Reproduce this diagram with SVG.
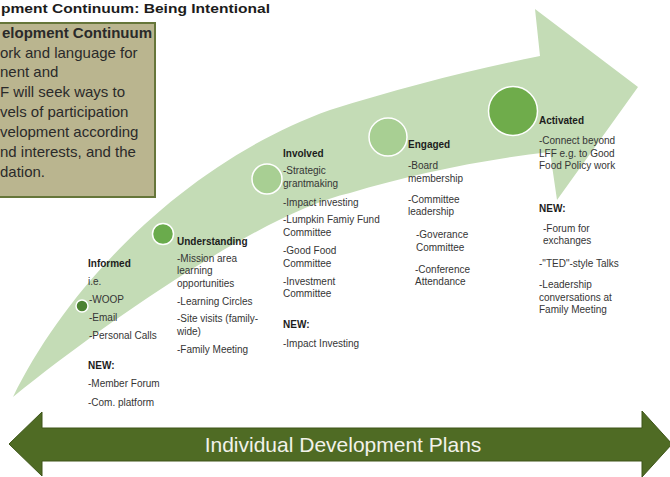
<svg xmlns="http://www.w3.org/2000/svg" width="670" height="477" viewBox="0 0 670 477">
<style>
.t{font-family:"Liberation Sans",Arial,sans-serif;font-size:10px;fill:#353535}
.b{font-weight:bold;fill:#1c1c1c}
.bx{font-family:"Liberation Sans",Arial,sans-serif;font-size:15px;fill:#2a2a2a}
.dot{stroke:#ffffff;stroke-width:1.5}
</style>
<rect width="670" height="477" fill="#ffffff"/>
<text x="1" y="12.5" textLength="269" lengthAdjust="spacingAndGlyphs" font-family="'Liberation Sans',Arial,sans-serif" font-size="13.5" font-weight="bold" fill="#1c1c1c">pment Continuum:  Being Intentional</text>
<g id="intro-box">
<rect x="-2" y="23" width="157" height="174" fill="#bab58f" stroke="#66763a" stroke-width="2"/>
<text class="bx" x="2" y="38" font-weight="bold" font-size="13.3">elopment Continuum</text>
<text class="bx" x="0" y="58">ork and language for</text>
<text class="bx" x="0" y="77">nent and</text>
<text class="bx" x="0" y="97">F will seek ways to</text>
<text class="bx" x="0" y="117">vels of participation</text>
<text class="bx" x="0" y="137">velopment according</text>
<text class="bx" x="0" y="157">nd interests, and the</text>
<text class="bx" x="0" y="177">dation.</text>
</g>
<g id="connectors">
<path id="continuum-arrow" d="M13,397 C70,280 190,160 330,110 C400,88 470,70 540,56 L535,9 L638,87 L557,200 L550,152 C480,160 410,175 350,193 C265,212 105,322 13,397 Z" fill="#c4dcb6"/>
<path id="idp-arrow" d="M9,444 L42,412 L42,428 L642,428 L642,411 L672,444 L642,477 L642,461 L42,461 L42,476 Z" fill="#4f6b24" stroke="#3e5519" stroke-width="1"/>
</g>
<g id="informed">
<circle class="dot" cx="82" cy="306" r="6" fill="#4c8232"/>
<text class="t b" x="88" y="267">Informed</text>
<text class="t" x="88" y="285">i.e.</text>
<text class="t" x="89" y="303">-WOOP</text>
<text class="t" x="89" y="321">-Email</text>
<text class="t" x="89" y="339">-Personal Calls</text>
<text class="t b" x="88" y="369">NEW:</text>
<text class="t" x="88" y="387">-Member Forum</text>
<text class="t" x="88" y="406">-Com. platform</text>
</g>
<g id="understanding">
<circle class="dot" cx="163" cy="234" r="10.5" fill="#6aab4c"/>
<text class="t b" x="177" y="245">Understanding</text>
<text class="t" x="177" y="262">-Mission area</text>
<text class="t" x="177" y="274">learning</text>
<text class="t" x="177" y="287">opportunities</text>
<text class="t" x="177" y="305">-Learning Circles</text>
<text class="t" x="177" y="322">-Site visits (family-</text>
<text class="t" x="177" y="335">wide)</text>
<text class="t" x="177" y="353">-Family Meeting</text>
</g>
<g id="involved">
<circle class="dot" cx="267" cy="179" r="15" fill="#a8cf93"/>
<text class="t b" x="283" y="157">Involved</text>
<text class="t" x="283" y="174">-Strategic</text>
<text class="t" x="283" y="187">grantmaking</text>
<text class="t" x="283" y="206">-Impact investing</text>
<text class="t" x="283" y="223">-Lumpkin Famiy Fund</text>
<text class="t" x="283" y="236">Committee</text>
<text class="t" x="283" y="254">-Good Food</text>
<text class="t" x="283" y="267">Committee</text>
<text class="t" x="283" y="285">-Investment</text>
<text class="t" x="283" y="297">Committee</text>
<text class="t b" x="283" y="328">NEW:</text>
<text class="t" x="283" y="347">-Impact Investing</text>
</g>
<g id="engaged">
<circle class="dot" cx="388" cy="137" r="19" fill="#a8cf93"/>
<text class="t b" x="408" y="148" font-size="11.5">Engaged</text>
<text class="t" x="408" y="169">-Board</text>
<text class="t" x="408" y="182">membership</text>
<text class="t" x="408" y="203">-Committee</text>
<text class="t" x="408" y="215">leadership</text>
<text class="t" x="416" y="238">-Goverance</text>
<text class="t" x="416" y="251">Committee</text>
<text class="t" x="415" y="273">-Conference</text>
<text class="t" x="415" y="285">Attendance</text>
</g>
<g id="activated">
<circle class="dot" cx="513" cy="111" r="24.5" fill="#6fac4b"/>
<text class="t b" x="539" y="124" font-size="13">Activated</text>
<text class="t" x="539" y="144">-Connect beyond</text>
<text class="t" x="539" y="157">LFF e.g. to Good</text>
<text class="t" x="539" y="169">Food Policy work</text>
<text class="t b" x="539" y="212" font-size="11.8">NEW:</text>
<text class="t" x="543" y="232">-Forum for</text>
<text class="t" x="543" y="244">exchanges</text>
<text class="t" x="539" y="267">-"TED"-style Talks</text>
<text class="t" x="539" y="288">-Leadership</text>
<text class="t" x="539" y="301">conversations at</text>
<text class="t" x="539" y="313">Family Meeting</text>
</g>
<g id="idp-label">
<text x="343" y="452" text-anchor="middle" font-family="'Liberation Sans',Arial,sans-serif" font-size="21" fill="#f2f2ea">Individual Development Plans</text>
</g>
</svg>
